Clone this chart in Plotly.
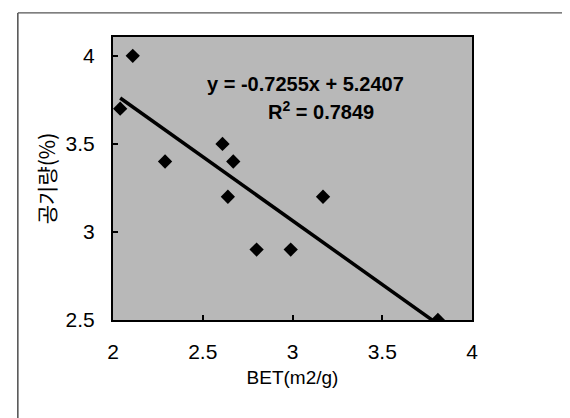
import plotly.graph_objects as go

# data
bet = [2.04, 2.11, 2.29, 2.61, 2.67, 2.64, 2.80, 2.99, 3.17, 3.81]
air = [3.70, 4.00, 3.40, 3.50, 3.40, 3.20, 2.90, 2.90, 3.20, 2.50]
slope = -0.7255
intercept = 5.2407
r2 = 0.7849
x_ticks = [2, 2.5, 3, 3.5, 4]
y_ticks = [2.5, 3, 3.5, 4]

x_line = [min(bet), max(bet)]
y_line = [slope * v + intercept for v in x_line]

fig = go.Figure()
fig.add_trace(go.Scatter(x=x_line, y=y_line, mode="lines",
                         line=dict(color="black", width=3.5), showlegend=False))
fig.add_trace(go.Scatter(x=bet, y=air, mode="markers",
                         marker=dict(symbol="diamond", size=11, color="black"),
                         showlegend=False))

font_family = "Liberation Sans, Arial, sans-serif"
fig.update_layout(
    width=570, height=418,
    margin=dict(l=105, r=106, t=29, b=106),
    paper_bgcolor="white",
    plot_bgcolor="#b8b8b8",
    font=dict(family=font_family, color="black", size=21),
    xaxis=dict(range=[2, 4], tickvals=x_ticks, ticktext=[f"{v:g}" for v in x_ticks],
               showgrid=False, zeroline=False, showline=True, linecolor="black",
               linewidth=2, mirror=True, ticks="inside", ticklen=5, tickwidth=2,
               tickcolor="black", ticklabelstandoff=12, automargin=False,
               title=dict(text="BET(m2/g)", font=dict(size=19), standoff=8)),
    yaxis=dict(range=[2.5, 4.107], tickvals=y_ticks, ticktext=[f"{v:g}" for v in y_ticks],
               showgrid=False, zeroline=False, showline=True, linecolor="black",
               linewidth=2, mirror=True, ticks="inside", ticklen=5, tickwidth=2,
               tickcolor="black", ticklabelstandoff=12, automargin=False,
               title=dict(text="공기량(%)", font=dict(size=21,
                          family="Noto Sans CJK KR, sans-serif"), standoff=4)),
    annotations=[
        dict(x=0.535, y=0.88, xref="paper", yref="paper", showarrow=False,
             text=f"<b>y = {slope}x + {intercept}</b>", font=dict(size=20, color="black")),
        dict(x=0.58, y=0.79, xref="paper", yref="paper", showarrow=False,
             text=f"<b>R<sup>2</sup> = {r2}</b>", font=dict(size=20, color="black")),
    ],
    shapes=[
        dict(type="line", xref="paper", yref="paper", x0=-0.265, x1=-0.265,
             y0=1.085, y1=-0.5, line=dict(color="#222", width=1.2)),
        dict(type="line", xref="paper", yref="paper", x0=-0.265, x1=1.29,
             y0=1.085, y1=1.085, line=dict(color="#555", width=1.2)),
        dict(type="line", xref="paper", yref="paper", x0=1.29, x1=1.29,
             y0=1.085, y1=-0.5, line=dict(color="#888", width=1)),
    ],
)

fig.write_html("out.html")
